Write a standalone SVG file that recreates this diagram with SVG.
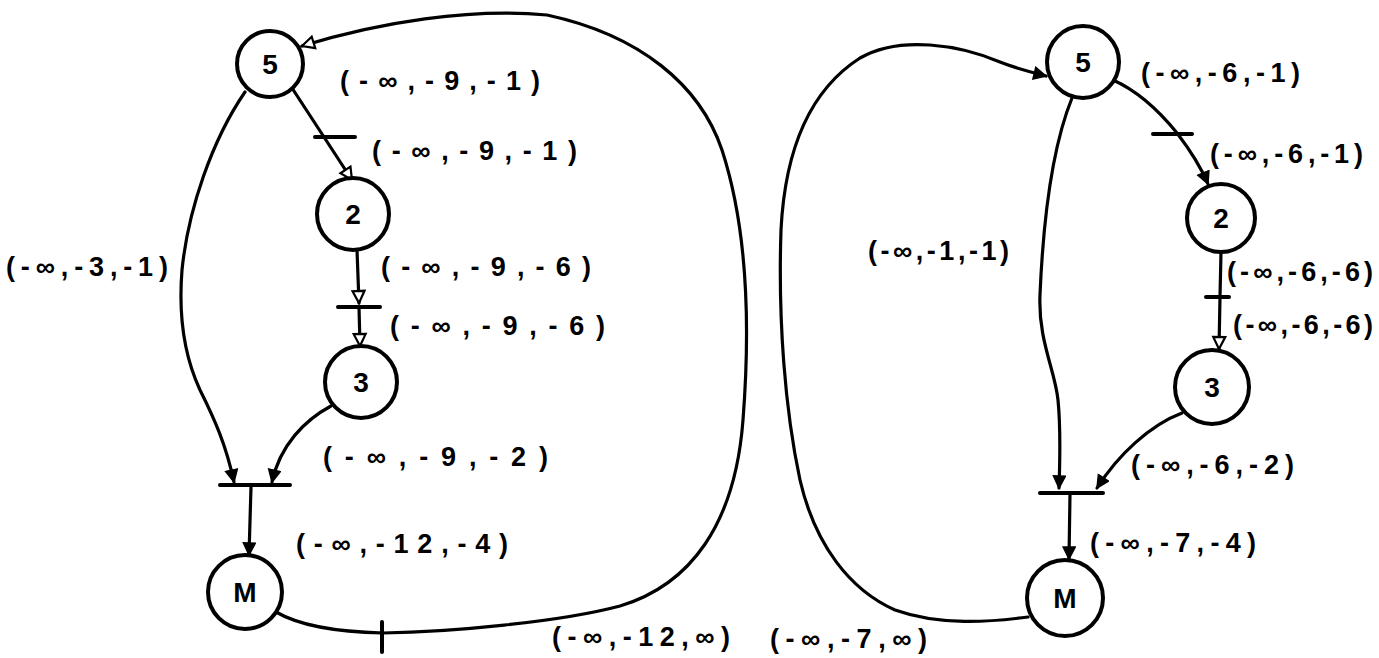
<svg xmlns="http://www.w3.org/2000/svg" width="1379" height="658" viewBox="0 0 1379 658">
<style>
.node circle{fill:#fff;stroke:#000;stroke-width:4}
.node text{font-family:"Liberation Sans",Arial,sans-serif;font-size:28px;font-weight:bold;text-anchor:middle;dominant-baseline:central;fill:#000}
.edge{fill:none;stroke:#000;stroke-width:3.2;stroke-linecap:round}
.bar{stroke:#000;stroke-width:4;stroke-linecap:round}
.lbl{font-family:"Liberation Sans",Arial,sans-serif;font-size:27px;font-weight:bold;fill:#000}
</style>
<defs>
<marker id="af" markerUnits="userSpaceOnUse" markerWidth="16" markerHeight="16" refX="13" refY="7" orient="auto"><path d="M1,1 L13,7 L1,13 z" fill="#000" stroke="#000" stroke-width="1.5"/></marker>
<marker id="ah" markerUnits="userSpaceOnUse" markerWidth="18" markerHeight="18" refX="14" refY="8" orient="auto"><path d="M2,2 L14,8 L2,14 z" fill="#fff" stroke="#000" stroke-width="2.2"/></marker>
</defs>
<rect width="1379" height="658" fill="#fff"/>

<g id="connectors">
<path class="edge" d="M292 88 L352 180" marker-end="url(#ah)"/>
<line class="bar" x1="315" y1="137" x2="355" y2="137"/>
<path class="edge" d="M357 250 L359 303" marker-end="url(#ah)"/>
<line class="bar" x1="338" y1="307" x2="380" y2="307"/>
<path class="edge" d="M359 307 L360 346" marker-end="url(#ah)"/>
<path class="edge" d="M245 92 C212 140 188 210 182 270 C178 320 186 360 200 390 C215 420 226 445 234 482" marker-end="url(#af)"/>
<path class="edge" d="M331 406 C305 420 280 445 272 482" marker-end="url(#af)"/>
<line class="bar" x1="220" y1="485" x2="290" y2="485"/>
<path class="edge" d="M251 487 L249 555" marker-end="url(#af)"/>
<path class="edge" d="M276 612 C300 626 340 632 383 633 C450 632 560 622 620 606 C690 585 735 525 743 420 C750 330 748 230 722 150 C700 85 640 35 547 15 C470 8 380 22 302 46" marker-end="url(#ah)"/>
<line class="bar" x1="382" y1="622" x2="382" y2="652"/>

<path class="edge" d="M1028 617 C990 622 940 626 895 610 C850 590 815 545 800 480 C785 410 778 320 781 230 C785 150 810 90 860 58 C900 35 960 45 1000 62 C1015 68 1030 72 1046 76" marker-end="url(#af)"/>
<path class="edge" d="M1072 98 C1055 140 1044 200 1040 295 C1038 340 1055 370 1058 400 C1061 430 1060 460 1059 488" marker-end="url(#af)"/>
<path class="edge" d="M1113 80 C1140 92 1160 112 1177 133 C1190 150 1200 165 1208 184" marker-end="url(#af)"/>
<line class="bar" x1="1153" y1="134" x2="1192" y2="134"/>
<path class="edge" d="M1221 252 L1220 297"/>
<line class="bar" x1="1206" y1="297" x2="1229" y2="297"/>
<path class="edge" d="M1220 297 L1219 349" marker-end="url(#ah)"/>
<path class="edge" d="M1182 413 C1150 425 1118 455 1097 488" marker-end="url(#af)"/>
<line class="bar" x1="1040" y1="493" x2="1103" y2="493"/>
<path class="edge" d="M1070 494 L1069 559" marker-end="url(#af)"/>
</g>

<g id="L5" class="node"><circle cx="270" cy="64" r="33"/><text x="270" y="64">5</text></g>
<g id="L2" class="node"><circle cx="353" cy="214" r="36"/><text x="353" y="214">2</text></g>
<g id="L3" class="node"><circle cx="361" cy="382" r="36"/><text x="361" y="382">3</text></g>
<g id="LM" class="node"><circle cx="245" cy="592" r="37"/><text x="245" y="592">M</text></g>

<g id="R5" class="node"><circle cx="1083" cy="62" r="36"/><text x="1083" y="62">5</text></g>
<g id="R2" class="node"><circle cx="1221" cy="218" r="34"/><text x="1221" y="218">2</text></g>
<g id="R3" class="node"><circle cx="1212" cy="387" r="37"/><text x="1212" y="387">3</text></g>
<g id="RM" class="node"><circle cx="1065" cy="598" r="38"/><text x="1065" y="598">M</text></g>

<g id="labels">
<text class="lbl" x="340" y="90" textLength="200" lengthAdjust="spacing">(-∞,-9,-1)</text>
<text class="lbl" x="372" y="160" textLength="205" lengthAdjust="spacing">(-∞,-9,-1)</text>
<text class="lbl" x="6" y="276" textLength="162" lengthAdjust="spacing">(-∞,-3,-1)</text>
<text class="lbl" x="381" y="276" textLength="210" lengthAdjust="spacing">(-∞,-9,-6)</text>
<text class="lbl" x="390" y="335" textLength="215" lengthAdjust="spacing">(-∞,-9,-6)</text>
<text class="lbl" x="323" y="466" textLength="225" lengthAdjust="spacing">(-∞,-9,-2)</text>
<text class="lbl" x="296" y="553" textLength="212" lengthAdjust="spacing">(-∞,-12,-4)</text>
<text class="lbl" x="552" y="646" textLength="178" lengthAdjust="spacing">(-∞,-12,∞)</text>

<text class="lbl" x="1141" y="82" textLength="159" lengthAdjust="spacing">(-∞,-6,-1)</text>
<text class="lbl" x="1210" y="163" textLength="153" lengthAdjust="spacing">(-∞,-6,-1)</text>
<text class="lbl" x="868" y="260" textLength="141" lengthAdjust="spacing">(-∞,-1,-1)</text>
<text class="lbl" x="1227" y="281" textLength="146" lengthAdjust="spacing">(-∞,-6,-6)</text>
<text class="lbl" x="1233" y="334" textLength="140" lengthAdjust="spacing">(-∞,-6,-6)</text>
<text class="lbl" x="1131" y="474" textLength="163" lengthAdjust="spacing">(-∞,-6,-2)</text>
<text class="lbl" x="1090" y="552" textLength="166" lengthAdjust="spacing">(-∞,-7,-4)</text>
<text class="lbl" x="770" y="648" textLength="157" lengthAdjust="spacing">(-∞,-7,∞)</text>
</g>
</svg>
